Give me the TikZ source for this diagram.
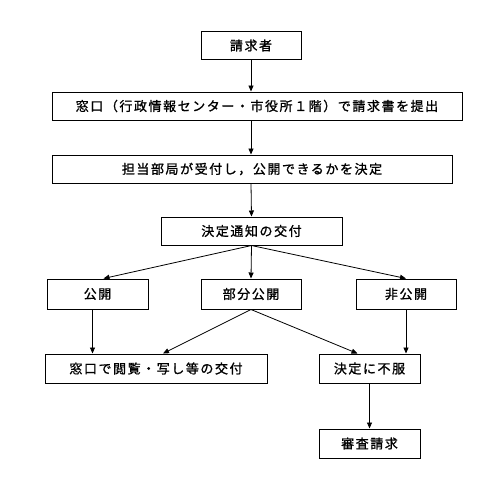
\documentclass[tikz,border=0pt]{standalone}
\usepackage{fontspec}
\newfontfamily\jpfont[LetterSpace=12,FakeBold=1.2]{Noto Sans CJK JP}
\usetikzlibrary{arrows.meta}
\tikzset{box/.style={draw,line width=1pt,minimum height=28pt,inner sep=0pt,font=\jpfont\fontsize{13}{15}\selectfont}}

\begin{document}
\begin{tikzpicture}[x=1pt,y=-1pt,>={Triangle[length=6pt,width=5pt]},line width=0.8pt]
	\useasboundingbox (0,0) rectangle (500,483);
	\node[box,minimum width=100pt] (req) at (251,45.5) {請求者};
	\node[box,minimum width=410pt] (win) at (257,106) {窓口（行政情報センター・市役所１階）で請求書を提出};
	\node[box,minimum width=400pt] (dept) at (252,169) {担当部局が受付し，公開できるかを決定};
	\node[box,minimum width=181pt] (notice) at (251.5,231) {決定通知の交付};
	\node[box,minimum width=101pt,minimum height=30pt] (open) at (97.5,294) {公開};
	\node[box,minimum width=100pt,minimum height=30pt] (part) at (251,294) {部分公開};
	\node[box,minimum width=100pt,minimum height=30pt] (nonopen) at (406,294) {非公開};
	\node[box,minimum width=222pt,minimum height=29pt] (view) at (156,368.5) {窓口で閲覧・写し等の交付};
	\node[box,minimum width=101pt,minimum height=29pt] (objection) at (369.5,368.5) {決定に不服};
	\node[box,minimum width=101pt,minimum height=29pt] (review) at (369.5,443.5) {審査請求};
	% flow
	\draw[->] (req.south) -- (req.south |- win.north);
	\draw[->] (req.south |- win.south) -- (req.south |- dept.north);
	\draw[->] (req.south |- dept.south) -- (notice.north);
	\draw[->] (notice.south) -- ([xshift=6pt]open.north);
	\draw[->] (notice.south) -- (part.north);
	\draw[->] (notice.south) -- (nonopen.north);
	\draw[->] ([xshift=-5pt]open.south) -- ([xshift=-5pt]open.south |- view.north);
	\draw[->] (part.south) -- ([xshift=7pt]view.north);
	\draw[->] (part.south) -- ([xshift=-12pt]objection.north);
	\draw[->] (nonopen.south) -- (nonopen.south |- objection.north);
	\draw[->] (objection.south) -- (review.north);
\end{tikzpicture}
\end{document}
